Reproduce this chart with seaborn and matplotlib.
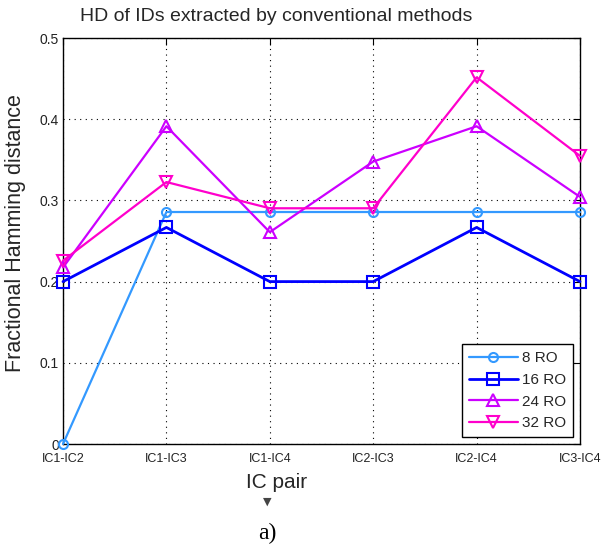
import matplotlib
matplotlib.use("Agg")
import matplotlib.pyplot as plt
import seaborn as sns
import pandas as pd

# IC pairs compared
pairs = ["IC1-IC2", "IC1-IC3", "IC1-IC4", "IC2-IC3", "IC2-IC4", "IC3-IC4"]

# Fractional Hamming distance per RO count
hd_8 = [0.0, 0.2857, 0.2857, 0.2857, 0.2857, 0.2857]
hd_16 = [0.2, 0.2667, 0.2, 0.2, 0.2667, 0.2]
hd_24 = [0.2174, 0.3913, 0.2609, 0.3478, 0.3913, 0.3043]
hd_32 = [0.2258, 0.3226, 0.2903, 0.2903, 0.4516, 0.3548]

series_names = ["8 RO", "16 RO", "24 RO", "32 RO"]
y_ticks = [0.0, 0.1, 0.2, 0.3, 0.4, 0.5]
y_tick_labels = ["0", "0.1", "0.2", "0.3", "0.4", "0.5"]

sns.set_theme(style="white")
plt.rcParams["font.family"] = ["Liberation Sans", "DejaVu Sans"]

fig = plt.figure(figsize=(6.05, 5.49), dpi=100)
ax = fig.add_axes([63 / 605, 1 - 444 / 549, 517 / 605, 406 / 549])

styles = {
    "8 RO": dict(color="#3399ff", marker="o", ms=6.5, lw=1.6),
    "16 RO": dict(color="#0000ff", marker="s", ms=8, lw=2.0),
    "24 RO": dict(color="#cc00ff", marker="^", ms=8.5, lw=1.6),
    "32 RO": dict(color="#ff00cc", marker="v", ms=8.5, lw=1.6),
}

frames = []
for name, vals in zip(series_names, [hd_8, hd_16, hd_24, hd_32]):
    frames.append(pd.DataFrame({"pos": range(len(pairs)), "hd": vals, "series": name}))
df = pd.concat(frames, ignore_index=True)

for name in series_names:
    st = styles[name]
    sub = df[df["series"] == name]
    sns.lineplot(data=sub, x="pos", y="hd", ax=ax, color=st["color"], label=name,
                 marker=st["marker"], markersize=st["ms"], linewidth=st["lw"],
                 markerfacecolor="none", markeredgecolor=st["color"],
                 markeredgewidth=1.5, clip_on=False, zorder=3)

ax.set_xlim(0, len(pairs) - 1)
ax.set_ylim(0, 0.5)
ax.set_xticks(range(len(pairs)))
ax.set_xticklabels(pairs, fontsize=9)
ax.set_yticks(y_ticks)
ax.set_yticklabels(y_tick_labels, fontsize=10)
ax.tick_params(direction="in", length=5, width=0.8, top=True, right=True,
               colors="black", labelcolor="#222222", pad=3)
ax.tick_params(axis="x", pad=6.5)

ax.grid(True, color="black", linestyle=(0, (1, 4)), linewidth=0.8)
for sp in ax.spines.values():
    sp.set_color("black")
    sp.set_linewidth(1.0)

ax.set_title("HD of IDs extracted by conventional methods", fontsize=14,
             x=(276 - 63) / 517, pad=12)
ax.set_ylabel("Fractional Hamming distance", fontsize=15.5)
ax.yaxis.set_label_coords((26 - 63) / 517, (444 - 233) / 406)
ax.set_xlabel("IC pair", fontsize=15)
ax.xaxis.set_label_coords((277 - 63) / 517, -0.072)

leg = ax.legend(loc="lower right", fontsize=11, frameon=True, fancybox=False,
                framealpha=1, edgecolor="black", borderaxespad=0.45,
                handlelength=3.2, handletextpad=0.3, labelspacing=0.5,
                borderpad=0.45)
leg.get_frame().set_linewidth(1.0)

fig.text(267 / 605, 1 - 502 / 549, "▼", ha="center", va="center",
         fontsize=8, color="#444444", family="DejaVu Sans")
fig.text(267 / 605, 1 - 533 / 549, "a)", ha="center", va="center",
         fontsize=17, family="Liberation Serif", color="black")

fig.savefig("out.png", dpi=100)
